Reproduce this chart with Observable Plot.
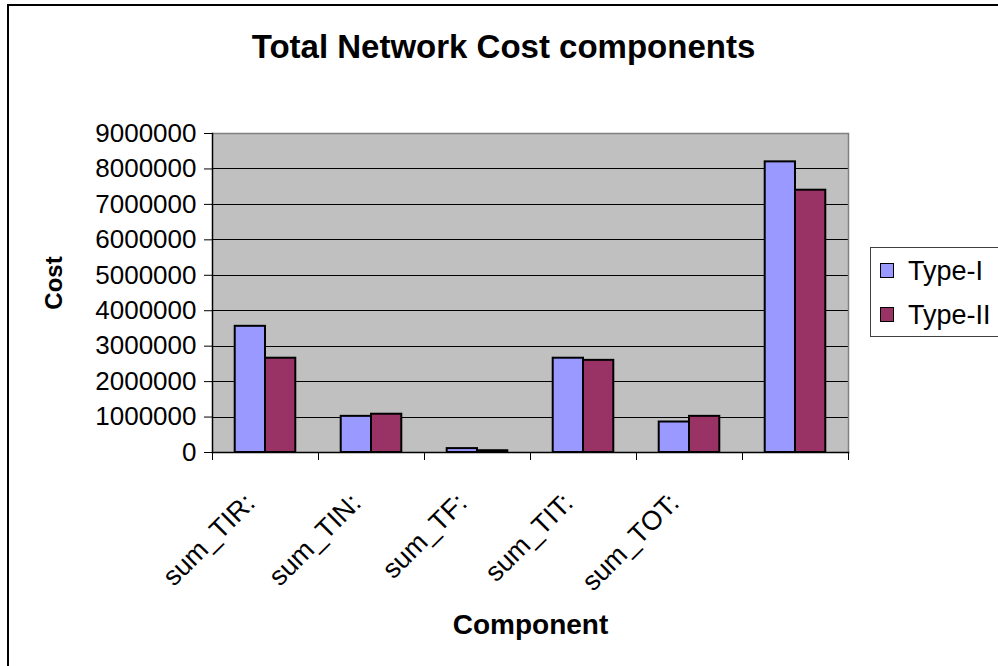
<!DOCTYPE html>
<html>
<head>
<meta charset="utf-8">
<script src="https://cdn.jsdelivr.net/npm/d3@7"></script>
<script src="https://cdn.jsdelivr.net/npm/@observablehq/plot@0.6"></script>
<style>
  html, body { margin: 0; padding: 0; background: #fff; overflow: hidden; }
  #chart { position: relative; width: 998px; height: 666px; overflow: hidden;
           font-family: "Liberation Sans", Arial, sans-serif; color: #000; }
  #chart svg { position: absolute; left: 0; top: 0; }
  #border { position: absolute; left: 7px; top: 4px; width: 1100px; height: 800px;
            border-left: 2px solid #000; border-top: 2px solid #000; pointer-events: none; }
  #title { position: absolute; left: 0; top: 30px; width: 1007px; text-align: center;
           font-weight: bold; font-size: 33px; line-height: 33px; }
  #legend { position: absolute; left: 870px; top: 247px; width: 140px; height: 88px;
            border: 1px solid #404040; background: #fff; }
  #legend .item { position: absolute; left: 9px; height: 27px; font-size: 27px; line-height: 27px; white-space: nowrap; }
  #legend .sw { position: absolute; left: 0; top: 5px; width: 12px; height: 13px; border: 1.5px solid #000; }
  #legend .lab { position: absolute; left: 28px; top: 0; }
  g[aria-label$="axis label"] { font-weight: bold; }
</style>
</head>
<body>
<div id="chart">
  <div id="title">Total Network Cost components</div>
  <div id="legend"></div>
  <div id="border"></div>
</div>
<script>
// Cost components per network type
const categories = ["sum_TIR:", "sum_TIN:", "sum_TF:", "sum_TIT:", "sum_TOT:", ""];
const series = ["Type-I", "Type-II"];
const colors = ["#9999FF", "#993366"];
const typeI = [3560000, 1020000, 110000, 2660000, 860000, 8200000];
const typeII = [2660000, 1080000, 50000, 2600000, 1020000, 7400000];
const yTicks = [0, 1000000, 2000000, 3000000, 4000000, 5000000, 6000000, 7000000, 8000000, 9000000];

const rows = categories.flatMap((c, i) => [
  {component: c, series: series[0], cost: typeI[i]},
  {component: c, series: series[1], cost: typeII[i]}
]);

const W = 998, H = 666;
const mL = 212, mR = 150, mT = 133, mB = 214;
const step = (W - mL - mR) / categories.length;

const chart = Plot.plot({
  width: W,
  height: H,
  marginLeft: mL,
  marginRight: mR,
  marginTop: mT,
  marginBottom: mB,
  style: {background: "transparent", fontFamily: "'Liberation Sans', Arial, sans-serif", fontSize: "26px", color: "#000"},
  fx: {domain: categories, padding: 0, round: false},
  x: {domain: series, paddingInner: 0, paddingOuter: 0.75, round: false, axis: null},
  y: {domain: [0, 9000000]},
  color: {domain: series, range: colors},
  marks: [
    // plot area background spans all components
    Plot.frame({facet: "super", fill: "#C0C0C0", stroke: "none"}),
    // horizontal gridlines, repeated in each component cell so they join up
    Plot.ruleY(yTicks.slice(1, -1), {stroke: "#000", strokeWidth: 1, shapeRendering: "crispEdges"}),
    Plot.ruleY([yTicks[yTicks.length - 1]], {stroke: "#808080", strokeWidth: 1.5}),
    Plot.barY(rows, {fx: "component", x: "series", y: "cost", fill: "series", stroke: "#000", strokeWidth: 2}),
    Plot.frame({facet: "super", anchor: "right", stroke: "#808080", strokeWidth: 1.5}),
    Plot.frame({facet: "super", anchor: "left", stroke: "#000", strokeWidth: 1.5}),
    Plot.frame({facet: "super", anchor: "bottom", stroke: "#000", strokeWidth: 1.5}),
    Plot.axisY({ticks: yTicks, tickFormat: "d", tickSize: 8, tickPadding: 8, label: null}),
    // y-axis title
    Plot.text(["Cost"], {facet: "super", frameAnchor: "left", textAnchor: "middle", rotate: -90,
                         dx: -158, dy: -10, fontSize: 24, fontWeight: "bold"}),
    // tick marks sit on the boundaries between components
    Plot.axisFx({anchor: "bottom", tickSize: 8, tickFormat: () => "", dx: -step / 2, label: null}),
    Plot.axisFx({anchor: "bottom", ticks: [categories[categories.length - 1]], tickSize: 8, tickFormat: () => "", dx: step / 2, label: null}),
    Plot.axisFx({anchor: "bottom", tickSize: 0, tickRotate: -45, tickPadding: 46, dx: -15, fontSize: 27,
                 label: null}),
    Plot.axisFx({anchor: "bottom", ticks: [], fontSize: 28,
                 label: "Component", labelAnchor: "center", labelOffset: 181, labelArrow: "none"})
  ]
});
document.getElementById("chart").insertBefore(chart, document.getElementById("title"));

// Legend built from the same series and colours
const legend = d3.select("#legend");
series.forEach((s, i) => {
  const item = legend.append("div").attr("class", "item").style("top", (10 + i * 44) + "px");
  item.append("div").attr("class", "sw").style("background", colors[i]);
  item.append("div").attr("class", "lab").text(s);
});
</script>
</body>
</html>
